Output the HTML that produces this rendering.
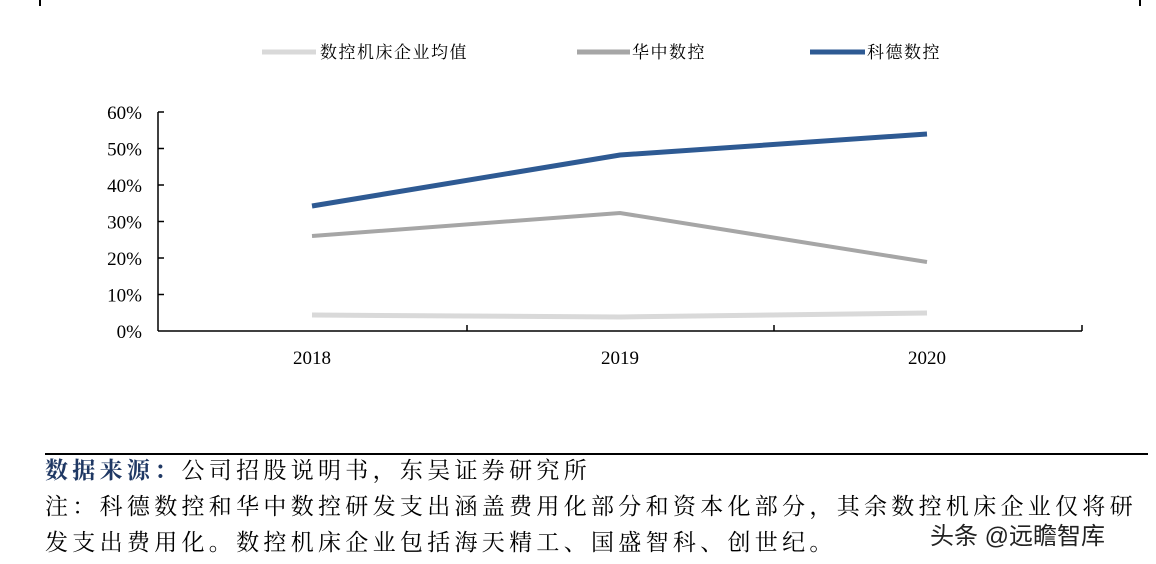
<!DOCTYPE html>
<html><head><meta charset="utf-8"><style>
body{margin:0;background:#fff;width:1156px;height:564px;overflow:hidden;position:relative;font-family:"Liberation Serif","Noto Serif CJK SC",serif}
.t{position:absolute;left:45px;font-size:23px;letter-spacing:4.3px;color:#000;white-space:nowrap;line-height:30px}
</style></head><body>
<svg width="1156" height="564" style="position:absolute;left:0;top:0">
<line x1="40" y1="0" x2="40" y2="6" stroke="#000" stroke-width="2"/>
<line x1="1140" y1="0" x2="1140" y2="6" stroke="#000" stroke-width="2"/>
<g font-family="Liberation Serif, Noto Serif CJK SC, serif" font-size="17" letter-spacing="1.5">
<line x1="262" y1="52" x2="316" y2="52" stroke="#d9d9d9" stroke-width="5"/>
<text x="320" y="58">数控机床企业均值</text>
<line x1="577" y1="52" x2="630" y2="52" stroke="#a6a6a6" stroke-width="5"/>
<text x="632" y="58">华中数控</text>
<line x1="810" y1="52" x2="865" y2="52" stroke="#2e5a93" stroke-width="5"/>
<text x="867" y="58">科德数控</text>
</g>
<g stroke="#000" stroke-width="1.5">
<line x1="158" y1="112" x2="158" y2="331"/>
<line x1="158" y1="331" x2="1082" y2="331"/>
<line x1="158" y1="112" x2="164" y2="112"/><line x1="158" y1="148.5" x2="164" y2="148.5"/>
<line x1="158" y1="185" x2="164" y2="185"/><line x1="158" y1="221.5" x2="164" y2="221.5"/>
<line x1="158" y1="258" x2="164" y2="258"/><line x1="158" y1="294.5" x2="164" y2="294.5"/>
<line x1="467" y1="325" x2="467" y2="331"/><line x1="774" y1="325" x2="774" y2="331"/><line x1="1082" y1="325" x2="1082" y2="331"/>
</g>
<g font-family="Liberation Serif, serif" font-size="19" text-anchor="end">
<text x="142" y="119">60%</text><text x="142" y="155.5">50%</text><text x="142" y="192">40%</text>
<text x="142" y="228.5">30%</text><text x="142" y="265">20%</text><text x="142" y="301.5">10%</text><text x="142" y="338">0%</text>
</g>
<g font-family="Liberation Serif, serif" font-size="19" text-anchor="middle">
<text x="312" y="364">2018</text><text x="620" y="364">2019</text><text x="927" y="364">2020</text>
</g>
<polyline points="312,315 620,317 927,313" fill="none" stroke="#d9d9d9" stroke-width="5"/>
<polyline points="312,236 620,213 927,262" fill="none" stroke="#a6a6a6" stroke-width="4"/>
<polyline points="312,206 620,155 927,134" fill="none" stroke="#2e5a93" stroke-width="5"/>
<line x1="45" y1="454" x2="1148" y2="454" stroke="#000" stroke-width="2"/>
</svg>
<div class="t" style="top:456px"><b style="color:#1f3864">数据来源：</b>公司招股说明书，东吴证券研究所</div>
<div class="t" style="top:492px">注：科德数控和华中数控研发支出涵盖费用化部分和资本化部分，其余数控机床企业仅将研</div>
<div class="t" style="top:528px">发支出费用化。数控机床企业包括海天精工、国盛智科、创世纪。</div>
<div style="position:absolute;left:930px;top:516px;font-family:'Liberation Sans','Noto Sans CJK SC',sans-serif;font-size:24px;color:#222;white-space:nowrap">头条 @远瞻智库</div>
</body></html>
